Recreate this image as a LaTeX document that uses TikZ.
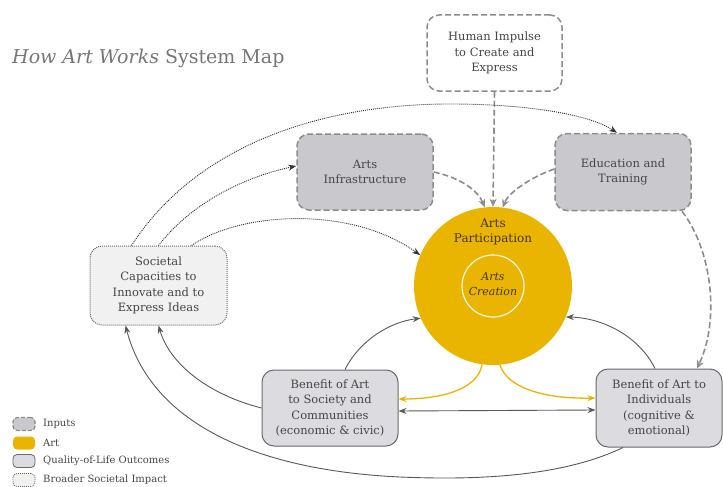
\documentclass[tikz,border=0pt]{standalone}
\usepackage{fontspec}
\setmainfont{DejaVu Serif}
\usetikzlibrary{arrows.meta,calc}
\definecolor{bordergray}{HTML}{8C8C8C}
\definecolor{inputfill}{HTML}{C9C9CD}
\definecolor{outfill}{HTML}{DCDCE0}
\definecolor{outborder}{HTML}{6A6A6A}
\definecolor{socfill}{HTML}{F1F1F1}
\definecolor{artyellow}{HTML}{EAB500}
\definecolor{txtgray}{HTML}{454545}
\definecolor{titlegray}{HTML}{767676}
\definecolor{arttext}{HTML}{45360C}
\begin{document}
\begin{tikzpicture}[x=1pt,y=-1pt,
  boxtext/.style={align=center,text=txtgray,font=\fontsize{11.5}{15.5}\selectfont,inner sep=0pt},
  inputbox/.style={boxtext,rectangle,rounded corners=12pt,draw=bordergray,line width=1.5pt,dash pattern=on 6pt off 3pt,fill=inputfill},
  impulsebox/.style={inputbox,fill=white},
  outbox/.style={boxtext,rectangle,rounded corners=12pt,draw=outborder,line width=1pt,fill=outfill},
  socbox/.style={boxtext,rectangle,rounded corners=12pt,draw=outborder,line width=1pt,dash pattern=on 1pt off 1pt,fill=socfill},
  dashcon/.style={draw=bordergray,line width=1.6pt,dash pattern=on 6pt off 3pt,-{Stealth[length=8pt,width=7pt]}},
  dotcon/.style={draw=black!80,line width=0.9pt,dash pattern=on 1pt off 1pt,-{Stealth[length=8pt,width=6pt]}},
  solidcon/.style={draw=black!65,line width=0.9pt,-{Stealth[length=8pt,width=6pt]}},
  yellowcon/.style={draw=artyellow,line width=1.3pt,-{Stealth[length=8pt,width=6pt]}},
  legbox/.style={rectangle,rounded corners=4pt,minimum width=22pt,minimum height=13pt,inner sep=0pt},
  legtext/.style={anchor=west,text=txtgray,font=\fontsize{10}{12}\selectfont,inner sep=0pt}
]
\useasboundingbox (0,0) rectangle (723,487);

% title
\node[anchor=west,text=titlegray,font=\fontsize{19}{22}\selectfont,inner sep=0pt] (title) at (12,58) {\textit{How Art Works} System Map};

% nodes
\node[impulsebox,minimum width=135pt,minimum height=76pt] (hum) at (494.5,53) {Human Impulse\\to Create and\\Express};
\node[inputbox,minimum width=136pt,minimum height=76pt] (inf) at (365,172) {Arts\\Infrastructure};
\node[inputbox,minimum width=136pt,minimum height=77pt] (edu) at (623,172) {Education and\\Training};
\node[socbox,minimum width=137pt,minimum height=79pt] (soc) at (158.5,285.5) {Societal\\Capacities to\\Innovate and to\\Express Ideas};
\node[circle,fill=artyellow,minimum size=158pt,inner sep=0pt] (ap) at (493,286) {};
\node[circle,draw=white!90!artyellow,line width=1.2pt,minimum size=62pt,inner sep=0pt] (ac) at (493,286) {};
\node[align=center,text=arttext,font=\fontsize{12}{15.5}\selectfont,inner sep=0pt] (aptext) at (493,232) {Arts\\Participation};
\node[align=center,text=arttext,font=\fontsize{11}{15.5}\itshape\selectfont,inner sep=0pt] (actext) at (493,284) {Arts\\Creation};
\node[outbox,minimum width=136pt,minimum height=76pt] (bsoc) at (330,408) {Benefit of Art\\to Society and\\Communities\\(economic \& civic)};
\node[outbox,minimum width=126pt,minimum height=78pt] (bind) at (659,408) {Benefit of Art to\\Individuals\\(cognitive \&\\emotional)};

% input connectors
\draw[dashcon] (hum.south) -- (ap.north);
\draw[dashcon] (inf.east) .. controls ($(inf.east)+(27,6)$) and ($(ap.96)+(-7,-17)$) .. (ap.96);
\draw[dashcon] ([yshift=3pt]edu.west) .. controls ($(edu.west)+(-23,5)$) and ($(ap.83)+(6,-15)$) .. (ap.83);
\draw[dashcon] ([xshift=59pt]edu.south) .. controls (712,250) and (720,320) .. ([xshift=38pt]bind.north);

% societal connectors (dotted)
\draw[dotcon] ([xshift=-27pt]soc.north) .. controls (200,140) and (330,104) .. (450,104) .. controls (530,104) and (590,115) .. ([xshift=-6pt]edu.north);
\draw[dotcon] (soc.north) .. controls (190,205) and (240,178) .. ([yshift=6pt]inf.west);
\draw[dotcon] ([xshift=33pt]soc.north) .. controls (240,212) and (350,205) .. (ap.157);

% outcomes connectors
\draw[solidcon] ([xshift=15pt]bsoc.north) .. controls (360,340) and (390,322) .. (ap.204);
\draw[solidcon] ([xshift=-4pt]bind.north) .. controls (640,338) and (605,318) .. (ap.337);
\draw[yellowcon] (ap.262) .. controls (478,390) and (440,399) .. ([yshift=9pt]bsoc.east);
\draw[yellowcon] (ap.275) .. controls (508,390) and (550,399) .. ([yshift=10pt]bind.west);
\draw[solidcon,{Stealth[length=8pt,width=6pt]}-{Stealth[length=8pt,width=6pt]}] ([yshift=-3pt]bsoc.east) -- ([yshift=-2pt]bind.west);
\draw[solidcon] (bsoc.west) .. controls (210,395) and (170,365) .. (soc.south);
\draw[solidcon] ([xshift=-36pt]bind.south) .. controls (560,478) and (470,480) .. (400,477) .. controls (250,470) and (150,420) .. ([xshift=-33pt]soc.south);

% legend
\node[legbox,draw=bordergray,line width=1.2pt,dash pattern=on 4pt off 2pt,fill=inputfill] (l1) at (24,424) {};
\node[legbox,fill=artyellow] (l2) at (24,443) {};
\node[legbox,draw=outborder,line width=0.8pt,fill=outfill] (l3) at (24,461) {};
\node[legbox,draw=outborder,line width=0.8pt,dash pattern=on 1pt off 1pt,fill=socfill] (l4) at (24,480) {};
\node[legtext] (t1) at (43,424) {Inputs};
\node[legtext] (t2) at (43,443) {Art};
\node[legtext] (t3) at (43,461) {Quality-of-Life Outcomes};
\node[legtext] (t4) at (43,480) {Broader Societal Impact};
\end{tikzpicture}
\end{document}
